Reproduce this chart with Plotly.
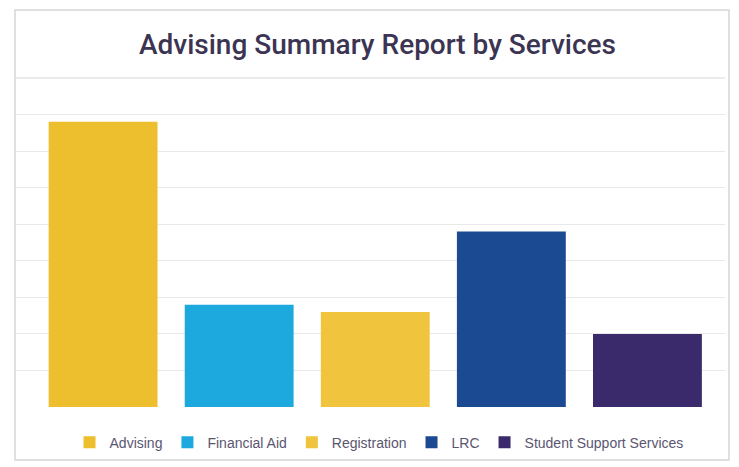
import plotly.graph_objects as go

categories = ["Advising", "Financial Aid", "Registration", "LRC", "Student Support Services"]
values = [78, 28, 26, 48, 20]
colors = ["#EDBE2E", "#1DA9DE", "#F0C43C", "#1B4A92", "#3A2A6C"]

fig = go.Figure()
for c, v, col in zip(categories, values, colors):
    fig.add_trace(go.Bar(x=[c], y=[v], name=c, marker=dict(color=col, line=dict(width=0))))

fig.update_layout(
    width=739, height=467,
    barmode="overlay", bargap=0.2,
    margin=dict(l=8, r=22, t=70, b=68),
    paper_bgcolor="white", plot_bgcolor="white",
    title=dict(text="Advising Summary Report by Services", x=0.5, xanchor="center",
               y=0.923, yanchor="middle",
               font=dict(family="Roboto", size=28, color="#3B3452", weight=500)),
    xaxis=dict(showticklabels=False, showgrid=False, zeroline=False, showline=False,
               range=[-0.64, 4.57], ticks=""),
    yaxis=dict(range=[0, 90], dtick=10, showticklabels=False, gridcolor="#E9E9E9",
               gridwidth=1, zeroline=False, showline=False, ticks=""),
    legend=dict(orientation="h", x=0.512, xanchor="center", y=-0.06, yanchor="top",
                font=dict(family="Liberation Sans", size=14, color="#5A5670"),
                itemwidth=30, traceorder="normal"),
    showlegend=True,
    shapes=[
        dict(type="line", xref="paper", yref="paper", x0=0, x1=1, y0=1, y1=1,
             line=dict(color="#E4E4E4", width=1.5)),
        dict(type="rect", xref="paper", yref="paper", x0=-0.0014, x1=1.0056, y0=-0.161, y1=1.207,
             line=dict(color="#D6D6D6", width=1.5), fillcolor="rgba(0,0,0,0)", layer="below"),
    ],
)

fig.write_html("out.html")
